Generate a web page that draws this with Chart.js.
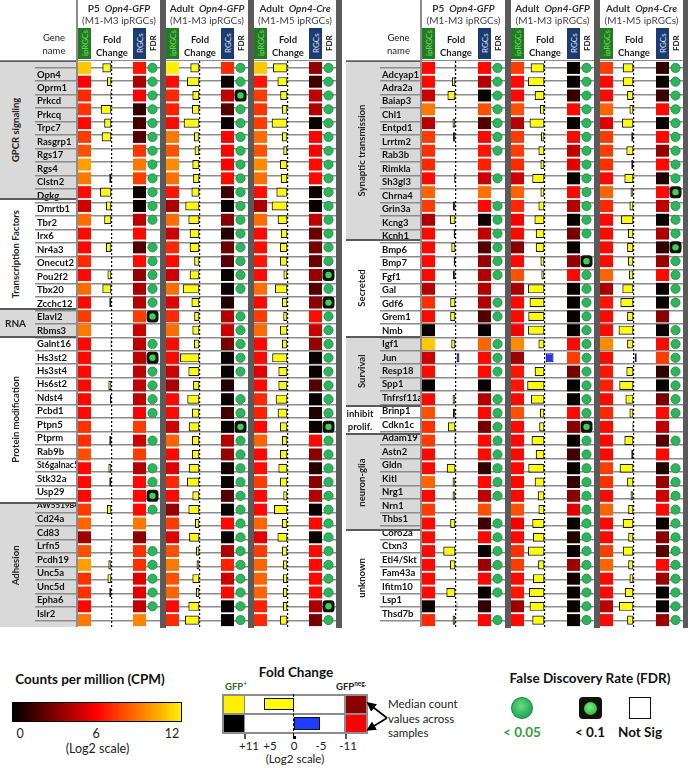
<!DOCTYPE html>
<html>
<head>
<meta charset="utf-8">
<script src="https://cdn.jsdelivr.net/npm/chart.js@4.4.1/dist/chart.umd.min.js"></script>
<style>
  html, body { margin: 0; padding: 0; background: #fff; }
  #page { position: relative; width: 688px; height: 768px; overflow: hidden; font-family: Lato, "Open Sans", sans-serif; color: #222; }
  .vt { writing-mode: vertical-rl; transform: rotate(180deg); display: flex; align-items: center; justify-content: center; white-space: nowrap; }
</style>
</head>
<body>
<div id="page"></div>
<script>
// ---- categories ----
const leftGenes = ['Opn4', 'Oprm1', 'Prkcd', 'Prkcq', 'Trpc7', 'Rasgrp1', 'Rgs17', 'Rgs4', 'Clstn2', 'Dgkg',
  'Dmrtb1', 'Tbr2', 'Irx6', 'Nr4a3', 'Onecut2', 'Pou2f2', 'Tbx20', 'Zcchc12', 'Elavl2', 'Rbms3',
  'Galnt16', 'Hs3st2', 'Hs3st4', 'Hs6st2', 'Ndst4', 'Pcbd1', 'Ptpn5', 'Ptprm', 'Rab9b', 'St6galnac5',
  'Stk32a', 'Usp29', 'AW551984', 'Cd24a', 'Cd83', 'Lrfn5', 'Pcdh19', 'Unc5a', 'Unc5d', 'Epha6', 'Islr2'];
const leftGroups = ['GPCR signaling', 'Transcription Factors', 'RNA', 'Protein modification', 'Adhesion'];
const leftGroupSizes = [10, 8, 2, 12, 9];

const rightGenes = ['Adcyap1', 'Adra2a', 'Baiap3', 'Chl1', 'Entpd1', 'Lrrtm2', 'Rab3b', 'Rimkla', 'Sh3gl3', 'Chrna4',
  'Grin3a', 'Kcng3', 'Kcnh1', 'Bmp6', 'Bmp7', 'Fgf1', 'Gal', 'Gdf6', 'Grem1', 'Nmb',
  'Igf1', 'Jun', 'Resp18', 'Spp1', 'Tnfrsf11a', 'Brinp1', 'Cdkn1c', 'Adam19', 'Astn2', 'Gldn',
  'Kitl', 'Nrg1', 'Nrn1', 'Thbs1', 'Coro2a', 'Ctxn3', 'Etl4/Skt', 'Fam43a', 'Ifitm10', 'Lsp1', 'Thsd7b'];
const rightGroups = ['Synaptic transmission', 'Secreted', 'Survival', 'inhibit prolif.', 'neuron-glia', 'unknown'];
const rightGroupSizes = [13, 7, 5, 2, 7, 7];

const conditions = ['P5', 'Adult', 'Adult'];
const reporters = ['Opn4-GFP', 'Opn4-GFP', 'Opn4-Cre'];
const subtypes = ['(M1-M3 ipRGCs)', '(M1-M3 ipRGCs)', '(M1-M5 ipRGCs)'];

// ---- left panel: log2 CPM (ipRGCs / RGCs), log2 fold change, FDR class (2 = <0.05, 1 = <0.1, 0 = not sig) ----
const leftP5Ipr = [11, 6, 7, 7.3, 6.2, 7.5, 8, 10, 9, 6.3, 4.8, 8.7, 6.2, 6.2, 7, 6.2, 8.7, 6.2, 7.5, 9,
  6.2, 6.2, 6.2, 6.2, 6.2, 6.2, 7.2, 7.2, 8, 6.2, 6.2, 6.2, 7.5, 8.5, 3.7, 8, 10, 7.2, 7.2, 6.2, 9];
const leftP5Fold = [5.3, 2.8, 0.9, 6.2, 4.3, 5.7, 0.4, 0.7, 1.5, 6.6, 3.4, 4.3, 0, 3.4, 0.2, 2.5, 5.3, 1.5, 0, 0,
  0.8, 0, 0, 2, 1.1, 0.2, 0, 1.5, 0, 2, 1.5, 0, 2.8, 0, 0, 0.9, 2, 2.5, 1.5, 0.3, 0];
const leftP5Rgc = [6.5, 4, 6, 1.2, 1.5, 2, 7.3, 9, 7.5, 0.3, 0.2, 4.5, 6.2, 2, 6.2, 3.5, 4, 4.2, 7.5, 4.8,
  4.5, 4.5, 4.5, 4.5, 4.5, 5.8, 7.5, 4.8, 7.5, 4.2, 6.2, 6.2, 6.2, 9, 3.3, 7.2, 7.2, 5.3, 5.3, 4.5, 9.3];
const leftP5Fdr = [2, 2, 2, 2, 2, 2, 2, 2, 2, 2, 2, 2, 0, 2, 2, 2, 2, 2, 1, 0,
  2, 1, 2, 2, 2, 2, 0, 2, 0, 2, 2, 1, 2, 0, 0, 2, 2, 2, 2, 2, 0];

const leftGfpIpr = [12, 6.3, 7, 6.8, 6.2, 9, 8, 9.5, 8.8, 6.5, 4, 8.7, 4.8, 7, 6.2, 4.8, 8.7, 5.3, 7, 8.7,
  6.2, 6.2, 4.8, 4, 6.2, 6.2, 4.8, 8.5, 6.2, 5.3, 7, 6.2, 3.5, 7.5, 5.3, 8, 9, 8, 8.5, 6.2, 7];
const leftGfpFold = [5.3, 7.2, 4.2, 4.5, 9, 3.4, 3, 4.2, 3.8, 4.7, 8.1, 6.4, 5.7, 5.7, 3.2, 5.7, 9.5, 4.7, 3.2, 4.2,
  3.4, 11, 6.4, 3.8, 7, 4.5, 6.2, 4.5, 4.5, 6.2, 7.2, 4.2, 6.4, 2.8, 6, 2.3, 1.9, 4.2, 2.3, 6.4, 8.3];
const leftGfpRgc = [7, 0.3, 4.5, 2, 0.2, 6, 6, 6, 6.2, 1.5, 0.2, 3.2, 0.8, 2.5, 2, 0.2, 0.2, 0.8, 4.2, 4.8,
  2.8, 0.2, 0.2, 0.8, 0.2, 1.5, 0.2, 4.2, 3.5, 0.5, 0.2, 2, 0.2, 6.2, 0.2, 4, 6.8, 4.8, 6.2, 0.2, 0.2];
const leftGfpFdr = [2, 2, 1, 2, 2, 2, 2, 2, 2, 2, 2, 2, 2, 2, 2, 2, 2, 0, 2, 2,
  2, 2, 2, 0, 2, 2, 1, 2, 2, 2, 2, 2, 2, 2, 2, 2, 2, 2, 2, 2, 2];

const leftCreIpr = [11, 6.5, 7.5, 7.3, 7.5, 8.7, 8, 9.5, 8.8, 6.3, 4, 8.7, 6.2, 6.3, 6.5, 6.3, 8.7, 6.2, 7.5, 8.7,
  6.2, 6.2, 5.3, 6.2, 7, 6.8, 6.2, 8.5, 6.2, 6.3, 7.5, 6.2, 6.2, 8.5, 5.3, 7.5, 8.5, 8.5, 8.5, 6.8, 7];
const leftCreFold = [8.3, 5.8, 4.3, 3.4, 9, 3.4, 2.6, 4.5, 4, 6.4, 9, 5.7, 4, 4.5, 4.5, 2.5, 7.2, 3.4, 2.6, 4.5,
  3.4, 8.7, 5.3, 5.3, 6.8, 5.7, 4.5, 3.4, 4.5, 5.3, 4.5, 2.6, 7.7, 3.4, 5.8, 3.4, 2.8, 2.8, 2.8, 2.8, 4.5];
const leftCreRgc = [3.5, 1.5, 4.5, 4.2, 0.2, 6, 6, 6.2, 6.2, 0.3, 0.2, 4.5, 2.5, 2.8, 2.4, 3.5, 2, 3.2, 6.3, 4.8,
  3.5, 0.2, 0.2, 2, 0.2, 0.8, 0.2, 6.2, 3.2, 0.9, 3.2, 4.2, 0.2, 6.2, 0.2, 6.2, 6.2, 6.2, 6.2, 4, 2.8];
const leftCreFdr = [2, 2, 2, 2, 2, 2, 2, 2, 2, 2, 2, 2, 2, 2, 2, 1, 2, 1, 2, 2,
  2, 2, 2, 2, 2, 2, 1, 2, 2, 2, 2, 2, 2, 2, 2, 2, 2, 2, 2, 1, 2];

// ---- right panel ----
const rightP5Ipr = [6.2, 6.2, 4.8, 9, 4.2, 7.5, 7.2, 7, 6.2, 8.5, 7.5, 4, 6.2, 6.2, 6.2, 6.2, 4.2, 7.2, 6.2, 0.2,
  11, 4.8, 6.2, 0.2, 6.2, 8, 7.2, 7.5, 6.2, 6.2, 8.5, 6.2, 7.5, 6.2, 6.2, 6.2, 6.2, 6.2, 6.2, 0.5, 7];
const rightP5Fold = [0.8, 2.3, 4.7, 0.2, 1.9, 1.7, 0.2, 0, 1, 0, 1.7, 3.4, 1.3, 2.6, 1.3, 1.7, 0, 3.2, 3.2, 0,
  2.6, -1.9, 0.3, 0, 1.9, 1.7, 4.5, 0.9, 0.9, 5.1, 1.9, 1.9, 0, 3.2, 0.3, 7, 3.4, 0.3, 5.3, -0.8, 1.9];
const rightP5Rgc = [6.2, 4.2, 0.2, 8, 2, 6.2, 6.5, 6.8, 4.8, 8.8, 6.2, 0.4, 4.5, 2, 3.5, 4.2, 4.2, 4.2, 2, 0.2,
  8.5, 6.2, 6.2, 0.2, 4.2, 6.2, 2.8, 6.2, 6.2, 1.2, 6.2, 4.5, 8, 1.5, 6.2, 0.2, 3.7, 6.2, 0.2, 1.2, 6.2];
const rightP5Fdr = [2, 2, 2, 2, 2, 2, 2, 0, 2, 0, 2, 2, 2, 2, 2, 2, 0, 2, 2, 0,
  2, 2, 2, 0, 2, 2, 2, 2, 2, 2, 2, 2, 0, 2, 2, 2, 2, 2, 2, 0, 2];

const rightGfpIpr = [7.5, 6.2, 6.2, 8, 4.2, 7.5, 7.5, 7, 4.8, 8.5, 7, 5.8, 6.2, 3.2, 6.2, 8, 4, 6.2, 6.2, 5.8,
  9.5, 3.7, 6.5, 6.5, 6.2, 8, 6.2, 6.2, 6.2, 6.2, 6.2, 6.2, 8, 5.8, 6.2, 7.2, 7.5, 6.2, 6.5, 3.7, 6.2];
const rightGfpFold = [7.9, 9.4, 5.7, 2.8, 8.5, 2.3, 3.6, 2.5, 7, 2.5, 3.6, 5.8, 5.1, 5.1, 2.5, 2, 9.4, 8.5, 9.2, 9.4,
  3.6, -4.7, 5.7, 9.8, 7.7, 2.8, 3.2, 7.4, 5.1, 9.2, 5.7, 4, 3.6, 7, 6.6, 9.4, 3.8, 6.6, 8.9, 8.5, 7];
const rightGfpRgc = [0.2, 0.2, 1.2, 6.2, 0.2, 6.2, 4.5, 5.3, 0.2, 6.2, 4.2, 0.2, 2.8, 0.2, 3.5, 6.2, 0.2, 0.2, 0.2, 0.2,
  6.2, 7.5, 2.8, 0.2, 0.2, 6.2, 3.2, 0.2, 1.5, 0.2, 1.2, 3.2, 5.3, 0.2, 0.8, 0.2, 3.7, 0.5, 0.2, 0.2, 0.2];
const rightGfpFdr = [2, 2, 2, 2, 2, 2, 2, 2, 2, 2, 2, 2, 2, 0, 1, 2, 2, 2, 2, 2,
  2, 2, 2, 2, 2, 2, 1, 2, 2, 2, 2, 2, 2, 2, 2, 2, 2, 2, 2, 2, 2];

const rightCreIpr = [7.5, 6.2, 6.2, 8.5, 5.3, 7.5, 7.5, 7.2, 6.2, 8.5, 7, 6.2, 6.2, 6.2, 6.2, 8.5, 4, 6.5, 6.2, 6.2,
  9.5, 6.2, 6.5, 6.8, 6.2, 7, 6.2, 6.2, 6.2, 7.5, 7.2, 6.2, 8.5, 6.2, 6.2, 7.5, 8.5, 6.2, 6.2, 4.4, 6.2];
const rightCreFold = [6.2, 6.2, 3.8, 2.5, 6.6, 1.5, 4.2, 1.5, 5.3, 1.9, 2.5, 7.2, 3.4, 3.8, 3.4, 2.8, 6.4, 7.5, 3.8, 8.5,
  3.8, -1.5, 4.2, 8.1, 4.7, 2.5, 0.9, 5.3, 1.5, 7.9, 3.8, 1.9, 3.2, 6.2, 3.2, 6.2, 3.2, 2.5, 5.1, 8.3, 3.8];
const rightCreRgc = [1.2, 0.2, 1.5, 6.2, 0.2, 6.2, 3.5, 6.2, 0.8, 6.2, 4.5, 0.2, 4, 1.2, 3.5, 6.2, 0.2, 0.2, 3.2, 0.2,
  6.2, 7.5, 1.2, 0.2, 2.8, 6.2, 4.5, 2, 6.2, 0.8, 3.5, 4.8, 6.2, 0.2, 3.2, 2, 6.2, 3.7, 0.2, 0.2, 3.7];
const rightCreFdr = [2, 2, 2, 2, 2, 2, 2, 2, 2, 1, 2, 2, 2, 1, 2, 2, 2, 2, 0, 2,
  2, 2, 2, 2, 2, 2, 0, 2, 0, 2, 2, 2, 2, 2, 2, 2, 2, 2, 2, 2, 2];

// ---- legend tick labels ----
const cpmTicks = [0, 6, 12];
const foldTicks = ['+11', '+5', '0', '-5', '-11'];
const fdrLabels = ['< 0.05', '< 0.1', 'Not Sig'];

// ---- layout ----
const page = document.getElementById('page');
const tableTop = 61, tableH = 566;
const rowH = tableH / leftGenes.length;
const GRAY = '#d9d9d9', SEP = '#5a5a5a';
const FONT = 'Lato, "Open Sans", sans-serif';

const panels = [
  { genes: leftGenes, groups: leftGroups, sizes: leftGroupSizes, groupX: 0, geneX: 31, geneW: 46,
    blockX: [78, 166, 254], blockW: 88, rgc: 55, fdr: 68,
    ipr: [leftP5Ipr, leftGfpIpr, leftCreIpr], fold: [leftP5Fold, leftGfpFold, leftCreFold],
    rgcv: [leftP5Rgc, leftGfpRgc, leftCreRgc], fdrv: [leftP5Fdr, leftGfpFdr, leftCreFdr] },
  { genes: rightGenes, groups: rightGroups, sizes: rightGroupSizes, groupX: 346, geneX: 376, geneW: 45,
    blockX: [422, 511, 600], blockW: 89, rgc: 56, fdr: 69,
    ipr: [rightP5Ipr, rightGfpIpr, rightCreIpr], fold: [rightP5Fold, rightGfpFold, rightCreFold],
    rgcv: [rightP5Rgc, rightGfpRgc, rightCreRgc], fdrv: [rightP5Fdr, rightGfpFdr, rightCreFdr] }
];

function cpmColor(v) {
  const t = Math.max(0, Math.min(12, v));
  if (t <= 6) return 'rgb(' + Math.round(t / 6 * 255) + ',0,0)';
  return 'rgb(255,' + Math.round((t - 6) / 6 * 240) + ',0)';
}

function addDiv(x, y, w, h, css, html) {
  const d = document.createElement('div');
  let s = 'position:absolute;left:' + x + 'px;top:' + y + 'px;';
  if (w != null) s += 'width:' + w + 'px;';
  if (h != null) s += 'height:' + h + 'px;';
  d.style.cssText = s + (css || '');
  if (html != null) d.innerHTML = html;
  page.appendChild(d);
  return d;
}

function addCanvas(x, y, w, h) {
  const c = document.createElement('canvas');
  c.width = w; c.height = h;
  c.style.cssText = 'position:absolute;left:' + x + 'px;top:' + y + 'px;width:' + w + 'px;height:' + h + 'px;';
  page.appendChild(c);
  return c;
}

function baseOptions(extra) {
  return Object.assign({
    responsive: false,
    animation: false,
    events: [],
    layout: { padding: 0, autoPadding: false },
    plugins: { legend: { display: false }, tooltip: { enabled: false } }
  }, extra);
}

// long gene names are shrunk a little so they stay in the name column
const measure = document.createElement('canvas').getContext('2d');
function geneFont(label, maxW) {
  measure.font = 'bold 9.5px ' + FONT;
  const w = measure.measureText(label).width || 1;
  return { family: FONT, weight: 'bold', size: Math.min(9.5, 9.5 * maxW / w) };
}

// gene names + row lines, one per panel
function frameChart(x, w, genes, maxW) {
  new Chart(addCanvas(x, tableTop - 1, w, tableH + 2), {
    type: 'bar',
    data: { labels: genes, datasets: [] },
    options: baseOptions({
      indexAxis: 'y',
      layout: { padding: { top: 1, bottom: 1 }, autoPadding: false },
      scales: {
        x: { display: false, min: 0, max: 1 },
        y: {
          offset: true,
          border: { display: false },
          grid: { offset: true, color: '#8c8c8c', lineWidth: 1.5, drawTicks: false },
          ticks: { mirror: true, padding: 2, autoSkip: false, z: 1, color: '#111',
                   font: c => geneFont(genes[c.index] || '', maxW) }
        }
      }
    })
  });
}

// heat-map column (CPM colour)
function heatChart(x, w, genes, values) {
  new Chart(addCanvas(x, tableTop, w, tableH), {
    type: 'bar',
    data: { labels: genes, datasets: [{
      data: values.map(() => 1),
      backgroundColor: values.map(cpmColor),
      barPercentage: 0.87, categoryPercentage: 1
    }] },
    options: baseOptions({
      indexAxis: 'y',
      scales: { x: { display: false, min: 0, max: 1 }, y: { display: false } }
    })
  });
}

// fold-change column, +11 on the left, -11 on the right
function foldChart(x, w, genes, fc) {
  new Chart(addCanvas(x, tableTop, w, tableH), {
    type: 'bar',
    data: { labels: genes, datasets: [{
      data: fc,
      backgroundColor: fc.map(v => v >= 0 ? '#ffff00' : '#2233ff'),
      borderColor: fc.map(v => v >= 0 ? '#1a1a1a' : '#101060'),
      borderWidth: 1.2, borderSkipped: false,
      barPercentage: 0.66, categoryPercentage: 1
    }] },
    options: baseOptions({
      indexAxis: 'y',
      scales: {
        x: {
          min: -11, max: 11, reverse: true,
          afterBuildTicks: s => { s.ticks = [{ value: 0 }]; },
          ticks: { display: false },
          grid: { drawTicks: false, color: '#000', lineWidth: 1.2, z: 1 },
          border: { display: false, dash: [2, 2] }
        },
        y: { display: false }
      }
    })
  });
}

// FDR column
function fdrChart(x, w, genes, codes) {
  const pts = code => genes.filter((g, i) => codes[i] === code).map(g => ({ x: 0.5, y: g }));
  new Chart(addCanvas(x, tableTop, w, tableH), {
    type: 'scatter',
    data: { labels: genes, datasets: [
      { data: pts(1), pointStyle: 'circle', pointRadius: 3.2, backgroundColor: '#3fd04c', borderWidth: 0, order: 0, clip: false },
      { data: pts(1), pointStyle: 'rectRounded', pointRadius: 7, backgroundColor: '#111', borderWidth: 0, order: 1, clip: false },
      { data: pts(2), pointStyle: 'circle', pointRadius: 4.6, backgroundColor: '#2db55c', borderColor: '#16883e', borderWidth: 0.8, order: 0, clip: false }
    ] },
    options: baseOptions({
      scales: {
        x: { display: false, min: 0, max: 1 },
        y: { type: 'category', labels: genes, offset: true, display: false }
      }
    })
  });
}

const bottom = tableTop + tableH;

panels.forEach(p => {
  // group backgrounds (group + gene columns)
  let start = 0;
  p.groups.forEach((g, k) => {
    const y = tableTop + start * rowH;
    const h = p.sizes[k] * rowH;
    addDiv(p.groupX, y, p.geneX + p.geneW - p.groupX, h, 'background:' + (k % 2 === 0 ? GRAY : '#fff') + ';');
    start += p.sizes[k];
  });

  frameChart(p.geneX, p.blockX[2] + p.blockW - 6 - p.geneX, p.genes, p.geneW - 4);

  p.blockX.forEach((bx, j) => {
    heatChart(bx, 13, p.genes, p.ipr[j]);
    foldChart(bx + 14, 40, p.genes, p.fold[j]);
    heatChart(bx + p.rgc, 13, p.genes, p.rgcv[j]);
    fdrChart(bx + p.fdr, 13, p.genes, p.fdrv[j]);
  });

  // group labels and boundaries
  start = 0;
  p.groups.forEach((g, k) => {
    const y = tableTop + start * rowH;
    const h = p.sizes[k] * rowH;
    const w = p.geneX - p.groupX;
    if (p.sizes[k] >= 5) {
      addDiv(p.groupX, y, w, h, 'font:bold 9.5px ' + FONT + ';color:#222;', g).className = 'vt';
    } else if (g === 'RNA') {
      addDiv(p.groupX, y, w, h, 'display:flex;align-items:center;justify-content:center;font:bold 10px ' + FONT + ';color:#222;', g);
    } else {
      const parts = g.split(' ');
      parts.forEach((t, i) => addDiv(p.groupX - 3, y + i * rowH, w + 4, rowH,
        'display:flex;align-items:center;justify-content:center;font:bold 9.5px ' + FONT + ';color:#222;', t));
    }
    addDiv(p.groupX, y - 1, p.geneX + p.geneW - p.groupX, 2, 'background:' + SEP + ';');
    start += p.sizes[k];
  });

  // header
  addDiv(p.geneX, 31, p.geneW, null, 'text-align:center;font:9.5px/13px ' + FONT + ';color:#222;', 'Gene<br>name');
  addDiv(p.geneX + p.geneW - 1, 0, 1.5, bottom, 'background:#8c8c8c;');
  addDiv(p.groupX, 59.5, p.blockX[2] + p.blockW - p.groupX, 1.5, 'background:#8c8c8c;');
  p.blockX.forEach((bx, j) => {
    addDiv(bx, 2, p.blockW - 6, null, 'text-align:center;font:bold 10px/13px ' + FONT + ';color:#333;white-space:nowrap;',
      conditions[j] + '&nbsp;&nbsp;<i>' + reporters[j] + '</i>');
    addDiv(bx, 14, p.blockW - 6, null, 'text-align:center;font:10px/13px ' + FONT + ';color:#444;white-space:nowrap;', subtypes[j]);
    addDiv(bx, 28, 13, 31, 'background:#237a23;color:#6fe060;font:8px ' + FONT + ';', 'ipRGCs').className = 'vt';
    addDiv(bx + 14, 33, 40, null, 'text-align:center;font:bold 9.5px/13px ' + FONT + ';color:#222;', 'Fold<br>Change');
    addDiv(bx + p.rgc, 28, 13, 31, 'background:#1d3b72;color:#dde5f5;font:8px ' + FONT + ';', 'RGCs').className = 'vt';
    addDiv(bx + p.fdr, 28, 13, 31, 'color:#111;font:bold 8px ' + FONT + ';', 'FDR').className = 'vt';
    addDiv(bx + p.blockW - 6, 0, 6, bottom + 1, 'background:' + SEP + ';');
  });
});

// ---- legend: CPM ----
addDiv(0, 671, 180, null, 'text-align:center;font:bold 13.5px ' + FONT + ';color:#111;white-space:nowrap;', 'Counts per million (CPM)');
const stops = [0, 1.5, 3, 4.5, 6, 7.5, 9, 10.5, 12].map(v => cpmColor(v) + ' ' + (v / 12 * 100) + '%').join(',');
addDiv(12, 702, 168, 18, 'border:1.5px solid #000;background:linear-gradient(to right,' + stops + ');');
cpmTicks.forEach(v => addDiv(20 + v / 12 * 152 - 15, 726, 30, null, 'text-align:center;font:12.5px ' + FONT + ';color:#222;', String(v)));
addDiv(40, 741, 115, null, 'text-align:center;font:12.5px ' + FONT + ';color:#222;', '(Log2 scale)');

// ---- legend: fold change ----
addDiv(236, 664, 120, null, 'text-align:center;font:bold 13.5px ' + FONT + ';color:#111;', 'Fold Change');
addDiv(225, 680, null, null, 'font:bold 9.5px ' + FONT + ';color:#2e6b1e;', 'GFP<sup style="font-size:6.5px">+</sup>');
addDiv(336, 680, null, null, 'font:bold 9.5px ' + FONT + ';color:#222;', 'GFP<sup style="font-size:6.5px">neg.</sup>');
addDiv(222, 694, 146, 40, 'background:#8c8c8c;');
addDiv(224, 696, 20, 17, 'background:' + cpmColor(12) + ';');
addDiv(224, 715, 20, 17, 'background:' + cpmColor(0) + ';');
addDiv(245, 696, 99, 17, 'background:#fff;');
addDiv(245, 715, 99, 17, 'background:#fff;');
addDiv(346, 696, 20, 17, 'background:' + cpmColor(3.3) + ';');
addDiv(346, 715, 20, 17, 'background:' + cpmColor(6) + ';');
addDiv(264, 698, 30, 12, 'box-sizing:border-box;background:#ffff00;border:1.5px solid #111;');
addDiv(294, 717, 26, 13, 'box-sizing:border-box;background:#1f3cff;border:1.5px solid #111;');
addDiv(293, 694, 0, 42, 'border-left:1.5px dashed #000;');
addDiv(292.5, 736, 3, 3, 'background:#000;');
addDiv(244, 734, 1.5, 5, 'background:#555;');
addDiv(345, 734, 1.5, 5, 'background:#555;');
[249, 270, 294, 321, 348].forEach((cx, i) => addDiv(cx - 12, 739, 24, null, 'text-align:center;font:11.5px ' + FONT + ';color:#222;', foldTicks[i]));
addDiv(240, 752, 110, null, 'text-align:center;font:11.5px ' + FONT + ';color:#222;', '(Log2 scale)');
addDiv(388, 697, null, null, 'font:11.5px/14.5px ' + FONT + ';color:#222;', 'Median count<br>values across<br>samples');
const arrows = addDiv(360, 694, 30, 42, '');
arrows.innerHTML = '<svg width="30" height="42" viewBox="0 0 30 42"><defs><marker id="ah" markerWidth="6" markerHeight="6" refX="4" refY="3" orient="auto"><path d="M0,0 L6,3 L0,6 z" fill="#000"/></marker></defs>' +
  '<line x1="27" y1="24" x2="9" y2="10" stroke="#000" stroke-width="1.6" marker-end="url(#ah)"/>' +
  '<line x1="27" y1="24" x2="9" y2="35" stroke="#000" stroke-width="1.6" marker-end="url(#ah)"/></svg>';

// ---- legend: FDR ----
addDiv(480, 670, 220, null, 'text-align:center;font:bold 13.5px ' + FONT + ';color:#111;white-space:nowrap;', 'False Discovery Rate (FDR)');
addDiv(511, 697, 22, 22, 'box-sizing:border-box;border-radius:50%;border:1px solid #17803a;background:radial-gradient(circle at 45% 40%,#6fdc84,#2db55c 55%,#1f9a48);');
addDiv(579, 697, 23, 22, 'border-radius:4px;background:#111;');
addDiv(584, 701.5, 13, 13, 'border-radius:50%;background:radial-gradient(circle at 45% 40%,#7bf07a,#3fc44a 60%,#2a9a35);');
addDiv(629, 697, 22, 22, 'box-sizing:border-box;border:1.5px solid #111;background:#fff;');
[522, 590, 640].forEach((cx, i) => addDiv(cx - 35, 724, 70, null,
  'text-align:center;font:bold 13.5px ' + FONT + ';color:' + (i === 0 ? '#3c9a3c' : '#111') + ';', fdrLabels[i]));
</script>
</body>
</html>
